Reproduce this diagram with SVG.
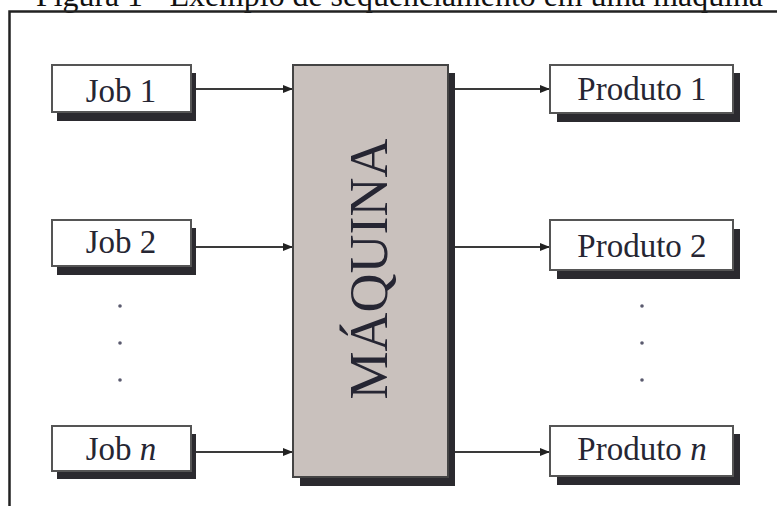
<svg xmlns="http://www.w3.org/2000/svg" width="777" height="506" viewBox="0 0 777 506">
  <style>
    .lbl { font-family: "Liberation Serif", "Times New Roman", serif; font-size: 33px; fill: #262633; text-anchor: middle; }
    .box { fill: #ffffff; stroke: #555555; stroke-width: 2; }
    .shadow { fill: #2b2a2f; }
    .conn { stroke: #3a3a3a; stroke-width: 2; fill: none; marker-end: url(#arrow); }
    .dot { fill: #5a5a6e; }
  </style>
  <defs>
    <marker id="arrow" viewBox="0 0 10 8" refX="10" refY="4" markerWidth="10" markerHeight="8" markerUnits="userSpaceOnUse" orient="auto">
      <path d="M0,0 L10,4 L0,8 z" fill="#222222"/>
    </marker>
  </defs>
  <rect width="777" height="506" fill="#ffffff"/>
  <text x="36" y="6" font-family="Liberation Serif, serif" font-size="32" fill="#111111" textLength="727" lengthAdjust="spacingAndGlyphs">Figura 1 - Exemplo de sequenciamento em uma máquina</text>
  <path d="M9.5,506 L9.5,11.5 L777,11.5" fill="none" stroke="#222222" stroke-width="2.5"/>

  <g id="connectors">
    <line class="conn" x1="196" y1="89" x2="293" y2="89"/>
    <line class="conn" x1="196" y1="247" x2="293" y2="247"/>
    <line class="conn" x1="196" y1="452" x2="293" y2="452"/>
    <line class="conn" x1="455" y1="89" x2="550" y2="89"/>
    <line class="conn" x1="455" y1="247" x2="550" y2="247"/>
    <line class="conn" x1="455" y1="452" x2="550" y2="452"/>
  </g>

  <g id="job1">
    <rect class="shadow" x="57" y="73" width="139" height="48"/>
    <rect class="box" x="52" y="65" width="139" height="47"/>
    <text class="lbl" x="121" y="102">Job 1</text>
  </g>
  <g id="job2">
    <rect class="shadow" x="57" y="228" width="139" height="47"/>
    <rect class="box" x="52" y="220" width="139" height="46"/>
    <text class="lbl" x="121" y="253">Job 2</text>
  </g>
  <g id="jobn">
    <rect class="shadow" x="57" y="434" width="139" height="45"/>
    <rect class="box" x="52" y="426" width="139" height="45"/>
    <text class="lbl" x="121" y="460">Job <tspan font-style="italic">n</tspan></text>
  </g>
  <g id="jobdots">
    <circle class="dot" cx="120" cy="306" r="1.8"/>
    <circle class="dot" cx="120" cy="343" r="1.8"/>
    <circle class="dot" cx="120" cy="380" r="1.8"/>
  </g>

  <g id="maquina">
    <rect class="shadow" x="300" y="73" width="155" height="413"/>
    <rect x="293" y="65" width="155" height="412" fill="#c9c1bd" stroke="#444444" stroke-width="2"/>
    <text class="lbl" transform="translate(387,269) rotate(-90)" x="0" y="0" style="font-size:54px">MÁQUINA</text>
  </g>

  <g id="produto1">
    <rect class="shadow" x="557" y="73" width="183" height="49"/>
    <rect class="box" x="550" y="65" width="183" height="48"/>
    <text class="lbl" x="642" y="100">Produto 1</text>
  </g>
  <g id="produto2">
    <rect class="shadow" x="557" y="229" width="183" height="50"/>
    <rect class="box" x="550" y="220" width="183" height="50"/>
    <text class="lbl" x="642" y="257">Produto 2</text>
  </g>
  <g id="produton">
    <rect class="shadow" x="557" y="434" width="183" height="51"/>
    <rect class="box" x="550" y="426" width="183" height="50"/>
    <text class="lbl" x="642" y="460">Produto <tspan font-style="italic">n</tspan></text>
  </g>
  <g id="produtodots">
    <circle class="dot" cx="642" cy="306" r="1.8"/>
    <circle class="dot" cx="642" cy="343" r="1.8"/>
    <circle class="dot" cx="642" cy="380" r="1.8"/>
  </g>
</svg>
